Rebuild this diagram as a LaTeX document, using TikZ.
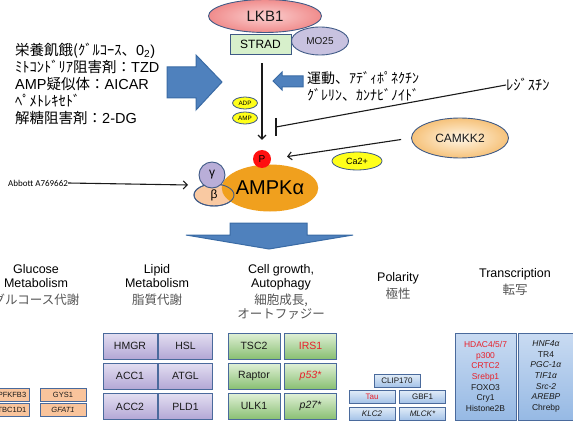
\documentclass[tikz,border=0pt]{standalone}
\usepackage{fontspec}
\usepackage{xcolor}
\setmainfont{Liberation Sans}
\newfontfamily\jpfont{Noto Sans CJK JP}
\newfontfamily\calfont{Carlito}
\newcommand{\jp}[1]{{\jpfont #1}}
\usetikzlibrary{
  positioning, arrows.meta, shapes.geometric, calc,
}
\definecolor{cEdge}       {HTML}{3F5A86}
\definecolor{cLine}       {HTML}{1A1A1A}
\definecolor{cLkbIn}      {HTML}{FBD0D0}
\definecolor{cLkbOut}     {HTML}{F08C8C}
\definecolor{cStrad}      {HTML}{D7F0CB}
\definecolor{cMo}         {HTML}{C8C2E0}
\definecolor{cAmpk}       {HTML}{F0A01E}
\definecolor{cGamma}      {HTML}{B9AED8}
\definecolor{cBeta}       {HTML}{F9C9A2}
\definecolor{cPhos}       {HTML}{FF1010}
\definecolor{cCamIn}      {HTML}{FFF6E6}
\definecolor{cCamOut}     {HTML}{F6C27A}
\definecolor{cCofactor}   {HTML}{FFFF1A}
\definecolor{cBlock}      {HTML}{4F81BD}
\definecolor{cBlockEdge}  {HTML}{3A6BA5}
\definecolor{cRed}        {HTML}{E8202A}
\definecolor{cMuted}      {HTML}{555555}
\definecolor{cLipidTop}   {HTML}{E3DEF1}
\definecolor{cLipidBot}   {HTML}{B3A7D5}
\definecolor{cGrowTop}    {HTML}{E0F0D6}
\definecolor{cGrowBot}    {HTML}{88BF72}
\definecolor{cPolTop}     {HTML}{E2EDF8}
\definecolor{cPolBot}     {HTML}{A5C3E8}
\definecolor{cGlu}        {HTML}{F9C49C}
\definecolor{cTfTop}      {HTML}{C9DBF2}
\definecolor{cTfBot}      {HTML}{96B9E4}
\definecolor{cBoxEdge}    {HTML}{4A6A9C}
\tikzset{
  blob/.style={ellipse, draw=cEdge, line width=0.9pt, inner sep=0pt, text=cLine},
  cofactor/.style={ellipse, draw=cEdge, fill=cCofactor, line width=0.8pt, inner sep=0pt},
  genebox/.style={rectangle, draw=cBoxEdge, line width=1pt, inner sep=0pt, text=cLine,
    minimum height=26pt, font=\fontsize{10.5}{12}\selectfont},
  lipidbox/.style={genebox, minimum width=54pt, top color=cLipidTop, bottom color=cLipidBot},
  growbox/.style={genebox, minimum width=52pt, top color=cGrowTop, bottom color=cGrowBot},
  polbox/.style={genebox, minimum width=46pt, minimum height=13pt,
    font=\fontsize{8}{9}\selectfont, top color=cPolTop, bottom color=cPolBot},
  glubox/.style={genebox, minimum height=13pt,
    font=\fontsize{7.5}{9}\selectfont, fill=cGlu},
  tfbox/.style={genebox, minimum height=87pt, align=center,
    font=\fontsize{8.5}{10.7}\selectfont, top color=cTfTop, bottom color=cTfBot},
  header/.style={align=center, inner sep=0pt, anchor=north, font=\fontsize{12.5}{14}\selectfont},
  blockarrow/.style={fill=cBlock, draw=cBlockEdge, line width=1pt},
  link/.style={->, line width=1.1pt, draw=cLine},
}

\begin{document}
\begin{tikzpicture}[x=1pt, y=-1pt, >={Straight Barb[length=4pt,width=8pt]}]
  \useasboundingbox (0,0) rectangle (573,425);

  % upstream
  \node[blob, inner color=cLkbIn, outer color=cLkbOut, minimum width=113pt, minimum height=33pt,
        font=\fontsize{15}{18}\selectfont] (lkb) at (265,16) {LKB1};
  \node[rectangle, draw=cEdge, line width=0.9pt, fill=cStrad, minimum width=61pt, minimum height=20pt,
        inner sep=0pt, font=\fontsize{12}{14}\selectfont] (strad) at (260.5,44) {STRAD};
  \node[blob, fill=cMo, minimum width=57pt, minimum height=28pt,
        font=\fontsize{10}{12}\selectfont] (mo) at (320,41) {MO25};

  \node[anchor=west, align=left, inner sep=0pt, font=\fontsize{14.5}{17}\selectfont] (stress) at (15,84)
    {\jp{栄養飢餓(ｸﾞﾙｺｰｽ、}0\textsubscript{2})\\
     \jp{ﾐﾄｺﾝﾄﾞﾘｱ阻害剤：}TZD\\
     AMP\jp{疑似体：}AICAR\\
     \jp{ﾍﾟﾒﾄﾚｷｾﾄﾞ}\\
     \jp{解糖阻害剤：}2-DG};
  \node[anchor=west, align=left, inner sep=0pt, font=\fontsize{14}{17}\selectfont\jpfont] (exercise) at (307,86.5)
    {運動、ｱﾃﾞｨﾎﾟﾈｸﾁﾝ\\ｸﾞﾚﾘﾝ、ｶﾝﾅﾋﾞﾉｲﾄﾞ};
  \node[anchor=west, inner sep=0pt, font=\fontsize{14.5}{17}\selectfont\jpfont] (resistin) at (506,85) {ﾚｼﾞｽﾁﾝ};

  \node[cofactor, minimum width=25pt, minimum height=12pt, font=\fontsize{6.3}{7}\selectfont] (adp) at (245,103) {ADP};
  \node[cofactor, minimum width=25pt, minimum height=12pt, font=\fontsize{6.3}{7}\selectfont] (amp) at (245,118) {AMP};
  \node[blob, inner color=cCamIn, outer color=cCamOut, minimum width=97pt, minimum height=40pt,
        font=\fontsize{12}{14}\selectfont] (camkk) at (460,138) {CAMKK2};
  \node[cofactor, minimum width=50pt, minimum height=18pt, font=\fontsize{9}{10}\selectfont] (ca) at (357,161) {Ca2+};

  % AMPK complex
  \node[blob, fill=cBeta, minimum width=40pt, minimum height=22pt] (beta) at (214,195) {};
  \node[ellipse, fill=cAmpk, minimum width=94pt, minimum height=47pt, inner sep=0pt,
        font=\fontsize{20}{22}\selectfont] (ampk) at (270,188) {AMPKα};
  \node[ellipse, draw=cEdge, line width=0.9pt, minimum width=40pt, minimum height=22pt, inner sep=0pt,
        font=\fontsize{12}{14}\selectfont] (betalab) at (214,195) {β};
  \node[circle, draw=cEdge, line width=0.9pt, fill=cGamma, minimum size=26pt, inner sep=0pt,
        font=\fontsize{12}{14}\selectfont] (gamma) at (212,175) {γ};
  \node[circle, fill=cPhos, minimum size=18pt, inner sep=0pt, font=\fontsize{10}{12}\selectfont] (p) at (262,159) {P};
  \node[anchor=west, inner sep=0pt, font=\fontsize{9}{10}\selectfont\calfont] (abbott) at (8,183) {Abbott A769662};

  % connectors
  \draw[link, shorten <=9pt, shorten >=10pt] (strad.south -| p) -- (p.north);
  \coordinate (block) at (276,127);
  \draw[line width=1.1pt, draw=cLine] (resistin.west) -- (block);
  \draw[line width=1.1pt, draw=cLine] ($(block)+(0,-9)$) -- ($(block)+(0,9)$);
  \draw[link, shorten <=10pt, shorten >=16pt] (camkk.west) -- (p.east);
  \coordinate (abbin) at (188,185);
  \draw[link] (abbott.east) -- (abbin);

  % block arrows
  \draw[blockarrow] (167,67) -- (196,67) -- (196,55) -- (222,82) -- (196,110) -- (196,98) -- (167,98) -- cycle;
  \draw[blockarrow] (303,76) -- (282,76) -- (282,72) -- (273,81) -- (282,90) -- (282,87) -- (303,87) -- cycle;
  \draw[blockarrow] (230,223) -- (307,223) -- (307,235) -- (353,235) -- (269,249) -- (186,235) -- (230,235) -- cycle;

  % targets
  \node[header] (hglu) at (36,264) {Glucose\\Metabolism\\[3pt]\textcolor{cMuted}{\jp{グルコース代謝}}};
  \node[header] (hlip) at (157,264) {Lipid\\Metabolism\\[3pt]\textcolor{cMuted}{\jp{脂質代謝}}};
  \node[header] (hgrow) at (281,264) {Cell growth,\\Autophagy\\[3pt]\textcolor{cMuted}{\jp{細胞成長,}}\\\textcolor{cMuted}{\jp{オートファジー}}};
  \node[header] (hpol) at (398,272) {Polarity\\[3pt]\textcolor{cMuted}{\jp{極性}}};
  \node[header] (htf) at (515,268) {Transcription\\[3pt]\textcolor{cMuted}{\jp{転写}}};

  \foreach \txt/\cx/\w/\row/\sty in {PFKFB3/12/34/0/\relax, GYS1/63/46/0/\relax, TBC1D1/12/34/1/\relax, GFAT1/63/46/1/\itshape}
    \node[glubox, minimum width=\w pt] (glu-\cx-\row) at (\cx, 394.5+\row*15) {\sty\txt};
  \foreach \txt/\col/\row in {HMGR/0/0, HSL/1/0, ACC1/0/1, ATGL/1/1, ACC2/0/2, PLD1/1/2}
    \node[lipidbox] (lip-\col-\row) at (130+\col*55.5, 346+\row*30.2) {\txt};
  \foreach \txt/\col/\row/\sty in {TSC2/0/0/\relax, IRS1/1/0/\color{cRed}, Raptor/0/1/\relax,
      p53*/1/1/\color{cRed}\itshape, ULK1/0/2/\relax, p27*/1/2/\itshape}
    \node[growbox] (grow-\col-\row) at (254+\col*56.5, 346+\row*30.2) {\sty\txt};
  \node[polbox] (clip) at (397,380.5) {CLIP170};
  \foreach \txt/\col/\row/\sty in {Tau/0/0/\color{cRed}, GBF1/1/0/\relax, KLC2/0/1/\itshape, MLCK*/1/1/\itshape}
    \node[polbox] (pol-\col-\row) at (372+\col*50.5, 396.5+\row*17) {\sty\txt};

  \node[tfbox, minimum width=61pt] (tfa) at (485.5,376.5)
    {\textcolor{cRed}{HDAC4/5/7}\\\textcolor{cRed}{p300}\\\textcolor{cRed}{CRTC2}\\\textcolor{cRed}{Srebp1}\\FOXO3\\Cry1\\Histone2B};
  \node[tfbox, minimum width=56pt] (tfb) at (546,376.5)
    {\textit{HNF4α}\\TR4\\\textit{PGC-1α}\\\textit{TIF1α}\\\textit{Src-2}\\\textit{AREBP}\\Chrebp};
\end{tikzpicture}
\end{document}
